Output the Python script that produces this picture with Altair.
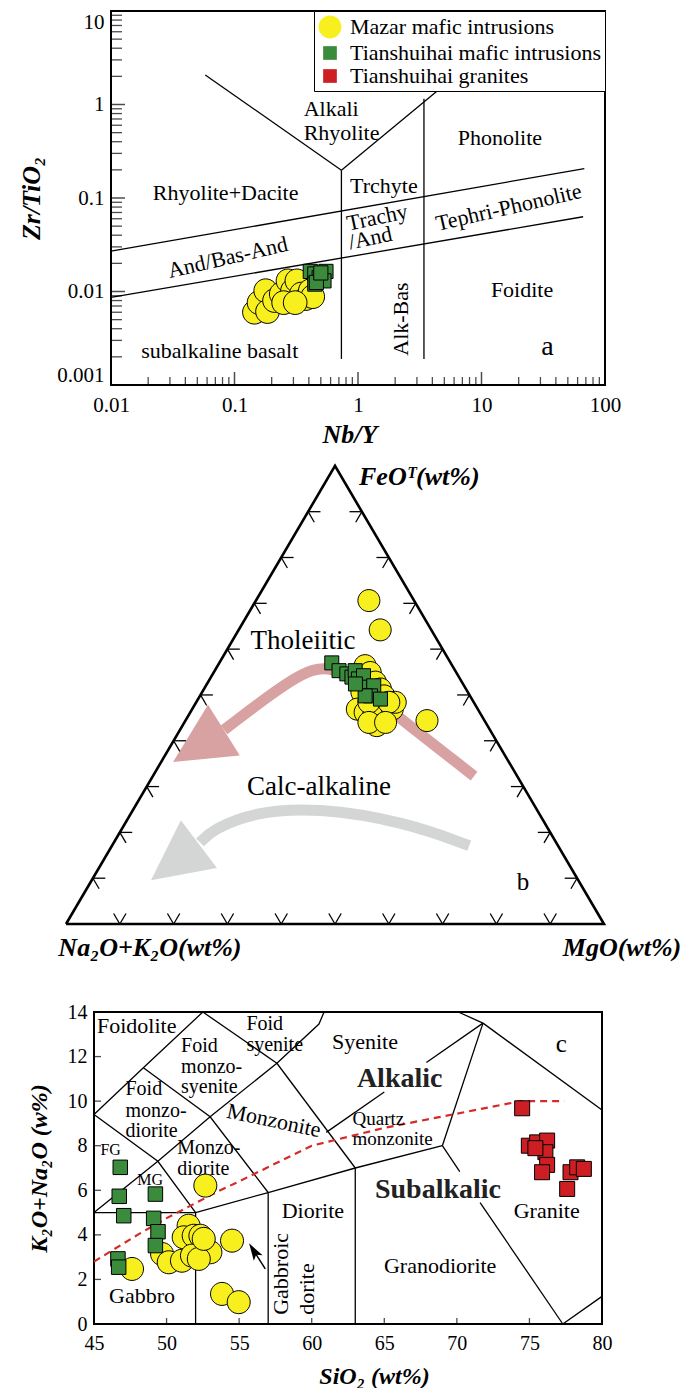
import math
import altair as alt
import pandas as pd

FONT = "Liberation Serif"
S3 = math.sqrt(3) / 2

GROUPS = ["Mazar mafic intrusions", "Tianshuihai mafic intrusions", "Tianshuihai granites"]
FILLS = ["#f7ef1e", "#3b8b3d", "#cc1e23"]
CIRCLE_PATH = "M-1,0A1,1,0,1,1,1,0A1,1,0,1,1,-1,0Z"
SQUARE_PATH = "M-0.6,-0.6L0.6,-0.6L0.6,0.6L-0.6,0.6Z"
SHAPES = [CIRCLE_PATH, SQUARE_PATH, SQUARE_PATH]

# ---------------- panel a : Nb/Y vs Zr/TiO2 ----------------
a_mazar_nby = [0.145, 0.158, 0.179, 0.185, 0.211, 0.239, 0.271, 0.295, 0.320, 0.348, 0.378, 0.411, 0.430, 0.250, 0.310]
a_mazar_zrti = [0.0060, 0.0076, 0.0102, 0.0061, 0.0080, 0.0094, 0.0130, 0.0102, 0.0130, 0.0094, 0.0084, 0.0102, 0.0088, 0.0076, 0.0076]
a_tsh_nby = [0.411, 0.447, 0.485, 0.550, 0.447, 0.530, 0.460, 0.500]
a_tsh_zrti = [0.0164, 0.0154, 0.0141, 0.0164, 0.0120, 0.0130, 0.0125, 0.0158]
a_x_labels = [0.01, 0.1, 1, 10, 100]
a_y_labels = [0.001, 0.01, 0.1, 1, 10]
a_field_lines = [
    (0.01, 0.027, 68, 0.206),
    (0.01, 0.00865, 66.5, 0.063),
    (0.058, 2.07, 0.734, 0.198),
    (0.734, 0.198, 4.4, 1.40),
    (0.734, 0.198, 0.734, 0.0019),
    (3.42, 1.15, 3.42, 0.0019),
]
a_labels = [
    ("Phonolite", 14.1, 0.436, 0), ("Rhyolite+Dacite", 0.0848, 0.1145, 0),
    ("Trchyte", 1.62, 0.135, 0), ("Tephri-Phonolite", 16.6, 0.0794, 347),
    ("And/Bas-And", 0.0883, 0.0231, 347), ("Alk-Bas", 2.22, 0.00507, 270),
    ("Foidite", 21.3, 0.01035, 0), ("subalkaline basalt", 0.076, 0.00233, 0),
    ("Trachy", 1.43, 0.0619, 348), ("/And", 1.26, 0.0372, 348),
]
a_labels_left = [("Alkali", 0.363, 0.889), ("Rhyolite", 0.363, 0.501)]

# ---------------- panel b : AFM ternary ----------------
b_mazar_A = [8.4, 9.5, 10.7, 16.2, 16.0, 16.1, 15.9, 16.0, 19.7, 22.4, 21.3, 20.1, 18.5, 15.9, 14.6, 15.8, 19.5, 20.6, 21.7, 18.6]
b_mazar_F = [70.6, 64.2, 44.4, 56.4, 54.9, 52.8, 51.3, 49.8, 50.6, 46.9, 46.2, 45.5, 45.5, 46.9, 48.4, 48.4, 48.4, 43.3, 44.0, 44.0]
b_mazar_M = [21.0, 26.3, 44.9, 27.4, 29.1, 31.1, 32.8, 34.2, 29.7, 30.7, 32.5, 34.4, 36.0, 37.2, 37.0, 35.8, 32.1, 36.1, 34.3, 37.4]
b_tsh_A = [22.1, 21.6, 20.5, 19.9, 18.6, 18.9, 17.6, 18.2, 16.8, 18.5, 17.0, 19.5, 20.0]
b_tsh_F = [57.0, 55.3, 54.6, 53.9, 55.3, 53.5, 54.2, 51.7, 52.0, 49.8, 49.1, 49.8, 52.4]
b_tsh_M = [20.9, 23.1, 24.9, 26.2, 26.1, 27.6, 28.2, 30.1, 31.2, 31.7, 33.9, 30.7, 27.6]
b_tick_fracs = [0.1, 0.2, 0.3, 0.4, 0.5, 0.6, 0.7, 0.8, 0.9]
b_thol_path = [(8.0, 32.3, 59.7), (18.0, 49.1, 32.9), (21.9, 57.4, 20.7), (30.6, 54.1, 15.3), (49.5, 42.4, 8.2)]
b_thol_head = (56.0, 38.9, 5.2)
b_calc_path = [(16.5, 17.1, 66.4), (25.6, 22.2, 52.2), (40.7, 25.5, 33.8), (52.9, 24.4, 22.7), (62.3, 20.7, 17.0), (66.2, 17.8, 16.0)]
b_calc_head = (73.0, 13.5, 13.5)
b_labels = [("Tholeiitic", 0.4405, 0.535, 27), ("Calc-alkaline", 0.4703, 0.259, 27), ("b", 0.8494, 0.0794, 25)]
b_titles = [("Na₂O+K₂O(wt%)", 0.156, -0.045), ("MgO(wt%)", 1.0335, -0.045)]
b_title_top = ("FeOᵀ(wt%)", 0.5446, 0.845)

# ---------------- panel c : TAS (plutonic) ----------------
c_tsh_sio2 = [46.81, 46.74, 47.05, 49.23, 49.11, 49.41, 49.23, 46.65, 46.70]
c_tsh_alk = [7.03, 5.73, 4.86, 5.83, 4.74, 4.14, 3.52, 2.92, 2.55]
c_mazar_sio2 = [52.67, 51.52, 51.18, 51.87, 52.33, 53.02, 54.51, 49.69, 50.15, 51.06, 51.75, 52.22, 47.62, 53.82, 54.97, 52.56]
c_mazar_alk = [6.21, 4.41, 3.89, 3.96, 3.96, 3.22, 3.74, 3.14, 2.77, 2.84, 3.07, 2.92, 2.47, 1.35, 0.98, 3.82]
c_gran_sio2 = [74.50, 74.96, 75.53, 76.22, 76.10, 76.22, 75.87, 77.83, 78.29, 78.75, 77.60, 75.41]
c_gran_alk = [9.68, 8.00, 8.15, 8.23, 7.71, 7.14, 6.81, 6.81, 7.03, 6.96, 6.06, 7.89]
c_field_lines = [
    [(45, 5), (52, 5), (57, 5.9), (63, 7), (69, 8)],
    [(52, 0), (52, 5)], [(57, 0), (57, 5.9)], [(63, 0), (63, 7)],
    [(69, 8), (70.2, 6.84)], [(71.6, 5.45), (77.3, 0)], [(77.3, 0), (80, 1.24)],
    [(69, 8), (71.8, 13.5)], [(71.8, 13.5), (70.1, 14)], [(71.8, 13.5), (80, 9.6)],
    [(71.8, 13.5), (67.9, 11.73)], [(65.0, 10.41), (61, 8.6)],
    [(57.6, 11.7), (63, 7)], [(52.5, 14), (57.6, 11.7)],
    [(57.6, 11.7), (60.5, 13.46), (60.85, 14)],
    [(45, 5), (49.4, 7.3), (53, 9.3), (57.6, 11.7)],
    [(45, 9.4), (48.4, 11.5), (52.5, 14)],
    [(48.4, 11.5), (53, 9.3), (57, 5.9)],
    [(45, 9.4), (49.4, 7.3), (52, 5)],
]
c_ib_sio2 = [45, 48, 50, 53.7, 55, 60, 65, 74.4, 77.4]
c_ib_alk = [2.8, 4.0, 4.75, 6.0, 6.4, 8.0, 8.8, 10.0, 10.0]
c_labels = [
    ("Foidolite", 47.94, 13.37, 22), ("Syenite", 63.67, 12.65, 22), ("c", 77.2, 12.58, 25),
    ("FG", 46.15, 7.79, 16), ("MG", 48.87, 6.48, 16), ("Diorite", 60.08, 5.06, 22),
    ("Granite", 76.19, 5.06, 22), ("Granodiorite", 68.85, 2.62, 22), ("Gabbro", 48.31, 1.27, 22),
]
c_labels_left = [
    ("Foid", 51.0, 12.47, 20), ("monzo-", 51.0, 11.53, 20), ("syenite", 51.0, 10.63, 20),
    ("Foid", 55.5, 13.45, 20), ("syenite", 55.5, 12.5, 20),
    ("Foid", 47.17, 10.56, 20), ("monzo-", 47.17, 9.58, 20), ("diorite", 47.17, 8.64, 20),
    ("Monzo-", 50.73, 7.88, 20), ("diorite", 50.73, 6.96, 20),
    ("Quartz", 62.81, 9.22, 19), ("monzonite", 62.81, 8.31, 19),
]
c_labels_bold = [("Alkalic", 66.06, 11.0), ("Subalkalic", 68.7, 6.03)]
c_labels_rot = [("Monzonite", 57.39, 9.13, 12), ("Gabbroic", 57.91, 2.25, 270), ("dorite", 59.65, 1.57, 270)]
c_arrow = [(56.8, 2.47), (56.0, 3.29)]

# ================= build panel a =================
A_W, A_H, A_SHIFT = 511, 374, 17
A_DEC = (A_W - A_SHIFT) / 4.0
xa = alt.Scale(type="log", domain=[0.01 * 10 ** (-A_SHIFT / A_DEC), 100], nice=False)
ya = alt.Scale(type="log", domain=[0.001, 10], nice=False)
AX_AX = alt.Axis(values=a_x_labels, format="~g", title="Nb/Y", labelFontSize=21, labelPadding=9,
                 titlePadding=6, titleFontSize=26, labelFlush=False)
AX_AY = alt.Axis(values=a_y_labels, format="~g", title="Zr/TiO₂", labelFontSize=21, labelPadding=7,
                 titlePadding=12, titleFontSize=26, offset=-A_SHIFT, labelFlush=True)


def XA(f="x"):
    return alt.X(f, type="quantitative", scale=xa, axis=AX_AX)


def YA(f="y"):
    return alt.Y(f, type="quantitative", scale=ya, axis=AX_AY)


frame_a = alt.Chart(pd.DataFrame({"x": [0.01], "x2": [100], "y": [0.001], "y2": [10]})).mark_rect(
    fillOpacity=0, stroke="black", strokeWidth=2
).encode(x=XA(), x2="x2:Q", y=YA(), y2="y2:Q")

lines_a = alt.Chart(pd.DataFrame(a_field_lines, columns=["x", "y", "x2", "y2"])).mark_rule(
    color="black", strokeWidth=1.3).encode(x=XA(), y=YA(), x2="x2:Q", y2="y2:Q")

minor_x = [m * 10 ** e for e in range(-2, 2) for m in range(2, 10)]
minor_y = [m * 10 ** e for e in range(-3, 1) for m in range(2, 10)]
tick_ax_minor = alt.Chart(pd.DataFrame({"x": minor_x})).mark_tick(
    orient="vertical", size=8, thickness=1.3, yOffset=-4, color="black").encode(
    x=XA(), y=alt.YDatum(0.001, type="quantitative", scale=ya, axis=AX_AY))
tick_ax_major = alt.Chart(pd.DataFrame({"x": [0.1, 1, 10]})).mark_tick(
    orient="vertical", size=13, thickness=1.5, yOffset=-6.5, color="black").encode(
    x=XA(), y=alt.YDatum(0.001, type="quantitative", scale=ya, axis=AX_AY))
tick_ay_minor = alt.Chart(pd.DataFrame({"y": minor_y})).mark_tick(
    orient="horizontal", size=11, thickness=1.3, xOffset=5.5, color="black").encode(
    y=YA(), x=alt.XDatum(0.01, type="quantitative", scale=xa, axis=AX_AX))
tick_ay_major = alt.Chart(pd.DataFrame({"y": [0.01, 0.1, 1]})).mark_tick(
    orient="horizontal", size=14, thickness=1.5, xOffset=7, color="black").encode(
    y=YA(), x=alt.XDatum(0.01, type="quantitative", scale=xa, axis=AX_AX))

lab_a = alt.Chart(pd.DataFrame(a_labels, columns=["t", "x", "y", "angle"])).mark_text(
    font=FONT, fontSize=22, color="black", align="center", baseline="middle").encode(
    x=XA(), y=YA(), text="t:N", angle=alt.Angle("angle:Q", scale=None))
lab_a_left = alt.Chart(pd.DataFrame(a_labels_left, columns=["t", "x", "y"])).mark_text(
    font=FONT, fontSize=22, color="black", align="left", baseline="middle").encode(x=XA(), y=YA(), text="t:N")
lab_a_panel = alt.Chart(pd.DataFrame({"t": ["a"], "x": [34.2], "y": [0.00252]})).mark_text(
    font=FONT, fontSize=28, color="black", align="center", baseline="middle").encode(x=XA(), y=YA(), text="t:N")

a_pts = pd.DataFrame({
    "group": [GROUPS[0]] * len(a_mazar_nby) + [GROUPS[1]] * len(a_tsh_nby),
    "x": a_mazar_nby + a_tsh_nby,
    "y": a_mazar_zrti + a_tsh_zrti,
})
leg = alt.Legend(title=None, orient="top-right", offset=0, padding=4, strokeColor="black", fillColor="white",
                 cornerRadius=0, labelFont=FONT, labelFontSize=22, labelColor="black", labelOffset=8,
                 rowPadding=0, symbolStrokeColor="black", symbolStrokeWidth=1, symbolOpacity=1,
                 symbolSize=520, labelLimit=400)
pts_a = alt.Chart(a_pts).mark_point(filled=True, opacity=1, stroke="black", strokeWidth=1, size=560).encode(
    x=XA(), y=YA(),
    color=alt.Color("group:N", scale=alt.Scale(domain=GROUPS, range=FILLS), legend=leg),
    shape=alt.Shape("group:N", scale=alt.Scale(domain=GROUPS, range=SHAPES), legend=leg),
)

panel_a = alt.layer(frame_a, lines_a, tick_ax_minor, tick_ax_major, tick_ay_minor, tick_ay_major,
                    lab_a, lab_a_left, lab_a_panel, pts_a).properties(width=A_W, height=A_H)

# ================= build panel b =================
B_W, B_H = 511, 555
xb = alt.Scale(domain=[0.052, 1.0019], nice=False, zero=False)
yb = alt.Scale(domain=[-0.1474, 0.9017], nice=False, zero=False)


def XB(f="x"):
    return alt.X(f, type="quantitative", scale=xb, axis=None)


def YB(f="y"):
    return alt.Y(f, type="quantitative", scale=yb, axis=None)


def tern_xy(A, F, M):
    s = A + F + M
    f, m = F / s, M / s
    return m + f / 2, f * S3


def tern_df(As, Fs, Ms):
    xs, ys = zip(*[tern_xy(a, f, m) for a, f, m in zip(As, Fs, Ms)])
    return pd.DataFrame({"x": xs, "y": ys, "o": range(len(xs))})


tri = pd.DataFrame({"x": [0, 1, 0.5, 0], "y": [0, 0, S3, 0], "o": [0, 1, 2, 3]})
tri_b = alt.Chart(tri).mark_line(color="black", strokeWidth=2.6, strokeJoin="miter").encode(
    x=XB(), y=YB(), order="o:Q")

L = 0.023
segs = []
for t in b_tick_fracs:
    px, py = t, 0.0
    segs += [(px, py, px + L * 0.5, py + L * S3), (px, py, px - L * 0.5, py + L * S3)]
    px, py = 0.5 * t, S3 * t
    segs += [(px, py, px + L, py), (px, py, px + L * 0.5, py - L * S3)]
    px, py = 1 - 0.5 * t, S3 * t
    segs += [(px, py, px - L, py), (px, py, px - L * 0.5, py - L * S3)]
ticks_b = alt.Chart(pd.DataFrame(segs, columns=["x", "y", "x2", "y2"])).mark_rule(
    color="black", strokeWidth=1.3).encode(x=XB(), y=YB(), x2="x2:Q", y2="y2:Q")

PINK, GREY = "#d9a2a2", "#d4d6d5"
thol_line = alt.Chart(tern_df(*zip(*b_thol_path))).mark_line(
    color=PINK, strokeWidth=11, interpolate="basis", strokeCap="butt").encode(x=XB(), y=YB(), order="o:Q")
calc_line = alt.Chart(tern_df(*zip(*b_calc_path))).mark_line(
    color=GREY, strokeWidth=11, interpolate="basis", strokeCap="butt").encode(x=XB(), y=YB(), order="o:Q")
HEAD = "M0,-1L1,1L-1,1Z"
thol_head = alt.Chart(tern_df(*zip(b_thol_head))).mark_point(
    shape=HEAD, size=3600, filled=True, opacity=1, color=PINK, angle=238).encode(x=XB(), y=YB())
calc_head = alt.Chart(tern_df(*zip(b_calc_head))).mark_point(
    shape=HEAD, size=3600, filled=True, opacity=1, color=GREY, angle=233).encode(x=XB(), y=YB())

maz_b = alt.Chart(tern_df(b_mazar_A, b_mazar_F, b_mazar_M)).mark_point(
    shape=CIRCLE_PATH, size=484, filled=True, opacity=1, fill=FILLS[0], stroke="black", strokeWidth=1).encode(
    x=XB(), y=YB())
tsh_b = alt.Chart(tern_df(b_tsh_A, b_tsh_F, b_tsh_M)).mark_point(
    shape="square", size=196, filled=True, opacity=1, fill=FILLS[1], stroke="black", strokeWidth=1).encode(
    x=XB(), y=YB())

lab_b = alt.Chart(pd.DataFrame(b_labels, columns=["t", "x", "y", "fs"])).mark_text(
    font=FONT, color="black", align="center", baseline="middle").encode(
    x=XB(), y=YB(), text="t:N", size=alt.Size("fs:Q", scale=None))
tit_b = alt.Chart(pd.DataFrame(b_titles, columns=["t", "x", "y"])).mark_text(
    font=FONT, fontSize=26, fontStyle="italic", fontWeight="bold", color="black", align="center",
    baseline="middle").encode(x=XB(), y=YB(), text="t:N")
tit_b_top = alt.Chart(pd.DataFrame([b_title_top], columns=["t", "x", "y"])).mark_text(
    font=FONT, fontSize=26, fontStyle="italic", fontWeight="bold", color="black", align="left",
    baseline="middle").encode(x=XB(), y=YB(), text="t:N")

panel_b = alt.layer(thol_line, thol_head, calc_line, calc_head, tri_b, ticks_b, maz_b, tsh_b,
                    lab_b, tit_b, tit_b_top).properties(width=B_W, height=B_H)

# ================= build panel c =================
C_W, C_H = 508, 312
xc = alt.Scale(domain=[45, 80], nice=False, zero=False)
yc = alt.Scale(domain=[0, 14], nice=False, zero=False)
AX_CX = alt.Axis(values=list(range(45, 81, 5)), title="SiO₂ (wt%)", labelFontSize=20, labelPadding=9,
                 titlePadding=11, titleFontSize=24, titleX=280, labelFlush=False)
AX_CY = alt.Axis(values=list(range(0, 15, 2)), title="K₂O+Na₂O (w%)", labelFontSize=20, labelPadding=7,
                 titlePadding=16, titleFontSize=24, labelFlush=False)


def XC(f="x"):
    return alt.X(f, type="quantitative", scale=xc, axis=AX_CX)


def YC(f="y"):
    return alt.Y(f, type="quantitative", scale=yc, axis=AX_CY)


frame_c = alt.Chart(pd.DataFrame({"x": [45], "x2": [80], "y": [0], "y2": [14]})).mark_rect(
    fillOpacity=0, stroke="black", strokeWidth=2
).encode(x=XC(), x2="x2:Q", y=YC(), y2="y2:Q")

rows = []
for i, line in enumerate(c_field_lines):
    for j, (sx, sy) in enumerate(line):
        rows.append({"id": i, "o": j, "x": sx, "y": sy})
lines_c = alt.Chart(pd.DataFrame(rows)).mark_line(color="black", strokeWidth=1.3).encode(
    x=XC(), y=YC(), detail="id:N", order="o:Q")
ib_c = alt.Chart(pd.DataFrame({"x": c_ib_sio2, "y": c_ib_alk, "o": range(len(c_ib_sio2))})).mark_line(
    color="#d42a2a", strokeWidth=2.2, strokeDash=[7, 5]).encode(x=XC(), y=YC(), order="o:Q")

tick_cx = alt.Chart(pd.DataFrame({"x": [50, 55, 60, 65, 70, 75]})).mark_tick(
    orient="vertical", size=6, thickness=1.3, yOffset=-3, color="black").encode(
    x=XC(), y=alt.YDatum(0, type="quantitative", scale=yc, axis=AX_CY))
tick_cy = alt.Chart(pd.DataFrame({"y": [2, 4, 6, 8, 10, 12]})).mark_tick(
    orient="horizontal", size=7, thickness=1.3, xOffset=3.5, color="black").encode(
    y=YC(), x=alt.XDatum(45, type="quantitative", scale=xc, axis=AX_CX))

lab_c = alt.Chart(pd.DataFrame(c_labels, columns=["t", "x", "y", "fs"])).mark_text(
    font=FONT, color="black", align="center", baseline="middle").encode(
    x=XC(), y=YC(), text="t:N", size=alt.Size("fs:Q", scale=None))
lab_c_left = alt.Chart(pd.DataFrame(c_labels_left, columns=["t", "x", "y", "fs"])).mark_text(
    font=FONT, color="black", align="left", baseline="middle").encode(
    x=XC(), y=YC(), text="t:N", size=alt.Size("fs:Q", scale=None))
lab_c_bold = alt.Chart(pd.DataFrame(c_labels_bold, columns=["t", "x", "y"])).mark_text(
    font=FONT, fontSize=28, fontWeight="bold", color="#222222", align="center", baseline="middle").encode(
    x=XC(), y=YC(), text="t:N")
lab_c_rot = alt.Chart(pd.DataFrame(c_labels_rot, columns=["t", "x", "y", "angle"])).mark_text(
    font=FONT, fontSize=22, color="black", align="center", baseline="middle").encode(
    x=XC(), y=YC(), text="t:N", angle=alt.Angle("angle:Q", scale=None))

arrow_c = alt.Chart(pd.DataFrame({"x": [c_arrow[0][0]], "y": [c_arrow[0][1]],
                                  "x2": [c_arrow[1][0]], "y2": [c_arrow[1][1]]})).mark_rule(
    color="black", strokeWidth=1.5).encode(x=XC(), y=YC(), x2="x2:Q", y2="y2:Q")
arrow_c_head = alt.Chart(pd.DataFrame({"x": [c_arrow[1][0]], "y": [c_arrow[1][1]]})).mark_point(
    shape="M0,-1L0.6,1L0,0.55L-0.6,1Z", size=300, filled=True, opacity=1, color="black", angle=328).encode(
    x=XC(), y=YC())

maz_c = alt.Chart(pd.DataFrame({"x": c_mazar_sio2, "y": c_mazar_alk})).mark_point(
    shape=CIRCLE_PATH, size=530, filled=True, opacity=1, fill=FILLS[0], stroke="black", strokeWidth=1).encode(
    x=XC(), y=YC())
tsh_c = alt.Chart(pd.DataFrame({"x": c_tsh_sio2, "y": c_tsh_alk})).mark_point(
    shape="square", size=210, filled=True, opacity=1, fill=FILLS[1], stroke="black", strokeWidth=1).encode(
    x=XC(), y=YC())
gra_c = alt.Chart(pd.DataFrame({"x": c_gran_sio2, "y": c_gran_alk})).mark_point(
    shape="square", size=225, filled=True, opacity=1, fill=FILLS[2], stroke="black", strokeWidth=1).encode(
    x=XC(), y=YC())

panel_c = alt.layer(frame_c, lines_c, ib_c, tick_cx, tick_cy, lab_c, lab_c_left, lab_c_bold, lab_c_rot,
                    arrow_c, arrow_c_head, maz_c, tsh_c, gra_c).properties(width=C_W, height=C_H)

chart = alt.vconcat(panel_a, panel_b, panel_c, spacing=0).resolve_scale(
    color="independent", shape="independent").resolve_legend(
    color="independent", shape="independent").properties(
    padding={"left": 10, "top": 2, "right": 2, "bottom": 0}
).configure_view(strokeWidth=0).configure_axis(
    grid=False, ticks=False, domain=False, labelFont=FONT, titleFont=FONT, labelColor="black",
    titleColor="black", titleFontStyle="italic", titleFontWeight="bold"
)

chart.save("out.html", embed_options={"renderer": "svg", "actions": False})
